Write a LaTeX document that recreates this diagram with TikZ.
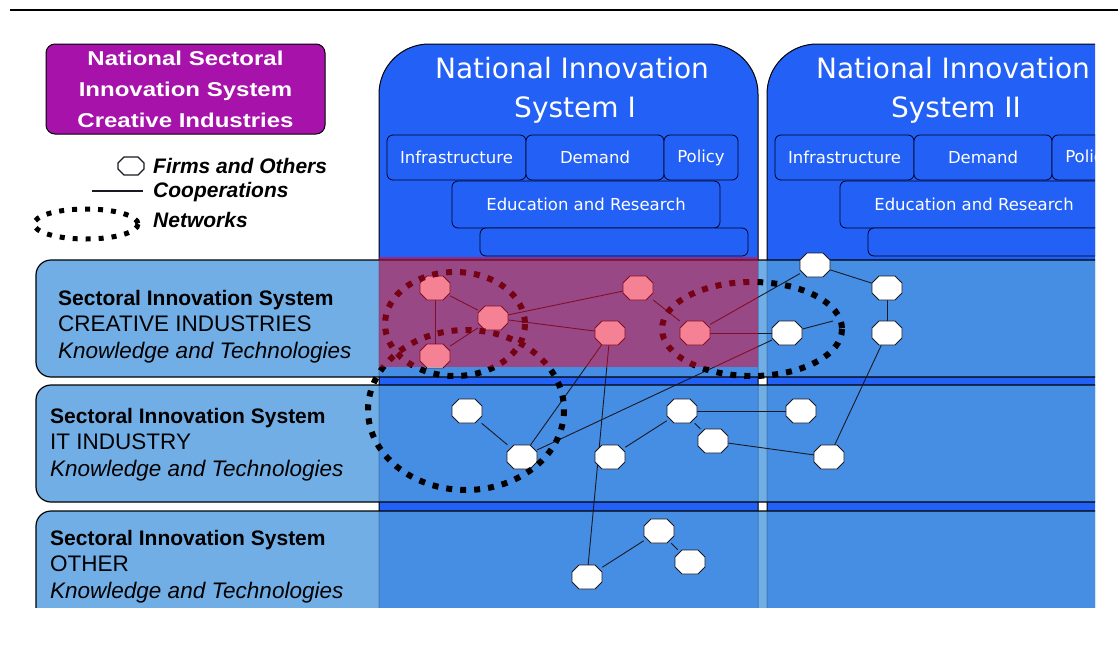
\documentclass[tikz,border=0pt]{standalone}
\usepackage{fontspec}
\setmainfont{Liberation Sans}
\newfontfamily\nisfont{DejaVu Sans}
\newfontfamily\boxfont[FakeStretch=1.2]{Liberation Sans}
\usepackage{tikz}
\pgfdeclarelayer{background}
\pgfdeclarelayer{foreground}
\pgfsetlayers{background,main,foreground}

\definecolor{nisblue}{RGB}{35,96,245}
\definecolor{sisblue}{RGB}{79,154,224}
\definecolor{nsismagenta}{RGB}{166,18,170}
\definecolor{cellred}{RGB}{236,4,42}
\definecolor{linkgray}{RGB}{25,25,35}

\tikzset{
  nis/.style={fill=nisblue, draw=black, line width=1pt, rounded corners=50pt},
  subbox/.style={draw=black!85!blue, line width=0.8pt, fill=nisblue, rounded corners=6pt, text=white, font=\nisfont\fontsize{16.5}{18}\selectfont, inner sep=0pt},
  sisband/.style={fill=sisblue, fill opacity=0.8, draw=black, line width=1.2pt, rounded corners=15pt},
  sisline/.style={anchor=base west, inner sep=0pt, text=black},
  firm/.style={rectangle, inner sep=0pt, minimum width=30pt, minimum height=24pt},
  firmbody/.style={draw=linkgray, line width=0.9pt, fill=white},
  coop/.style={draw=linkgray, line width=0.9pt},
  network/.style={draw=black, line width=6pt, dash pattern=on 6pt off 8pt},
  legtext/.style={anchor=base west, inner sep=0pt, font=\bfseries\itshape\fontsize{21}{24}\selectfont},
}

\begin{document}
\begin{tikzpicture}[x=1pt, y=-1pt]
\useasboundingbox (0,0) rectangle (1118,646);

\begin{scope}
\clip (0,0) rectangle (1095,607);
% national innovation systems
\foreach \dx/\tx/\nm [count=\c] in {0/572/I, 388/953/II} {
  \begin{scope}[xshift=\dx pt]
  \draw[nis] (379,660) -- (379,44) -- (758,44) -- (758,660);
  \node[subbox, minimum width=139pt, minimum height=45pt] (inf\c) at (456.5,157.5) {Infrastructure};
  \node[subbox, minimum width=138pt, minimum height=45pt] (dem\c) at (595,157.5) {Demand};
  \node[subbox, minimum width=74pt, minimum height=45pt] (pol\c) at (701,157.5) {Policy};
  \node[subbox, minimum width=268pt, minimum height=47pt] (edu\c) at (586,204.5) {Education and Research};
  \node[subbox, minimum width=268pt, minimum height=28pt] (emp\c) at (614,242) {};
  \end{scope}
  \node[anchor=base, inner sep=0pt, text=white, font=\nisfont\fontsize{28}{34}\selectfont] (nisa\c) at (\tx,78) {National Innovation};
  \node[anchor=base, inner sep=0pt, text=white, font=\nisfont\fontsize{28}{34}\selectfont] (nisb\c) at (\tx+3,117) {System \nm};
}

% sectoral innovation systems
\foreach \yt/\yb in {260/377, 385/502, 511/660}
  \draw[sisband] (1150,\yt) -- (36,\yt) -- (36,\yb) -- (1150,\yb);
\foreach \xx/\yy/\sector [count=\b] in {58/305/CREATIVE INDUSTRIES, 50/423/IT INDUSTRY, 50/545/OTHER} {
  \node[sisline, font=\bfseries\fontsize{21}{24}\selectfont] (sisname\b) at (\xx,\yy) {Sectoral Innovation System};
  \node[sisline, font=\fontsize{22.5}{26}\selectfont] (sissector\b) at (\xx,\yy+26.5) {\sector};
  \node[sisline, font=\itshape\fontsize{22.5}{26}\selectfont] (sisknow\b) at (\xx,\yy+53) {Knowledge and Technologies};
}

% firms and others
\node[firm] (c1) at (435,288) {};
\node[firm] (c2) at (435,356) {};
\node[firm] (c3) at (493,318) {};
\node[firm] (c4) at (638,288) {};
\node[firm] (c5) at (610,333) {};
\node[firm] (c6) at (695,333) {};
\node[firm] (c7) at (815,265) {};
\node[firm] (c8) at (787,333) {};
\node[firm] (c9) at (887,288) {};
\node[firm] (c10) at (887,333) {};
\node[firm] (t1) at (467,411) {};
\node[firm] (t2) at (522,457) {};
\node[firm] (t3) at (610,457) {};
\node[firm] (t4) at (682,411) {};
\node[firm] (t5) at (713,441) {};
\node[firm] (t6) at (801,411) {};
\node[firm] (t7) at (829,457) {};
\node[firm] (o1) at (659,531) {};
\node[firm] (o2) at (690,562) {};
\node[firm] (o3) at (587,577) {};
\coordinate (netend) at (833,321);

% cooperations
\draw[coop] (c1) -- (c2);
\draw[coop] (c1) -- (c3);
\draw[coop] (c2) -- (c3);
\draw[coop] (c3) -- (c4);
\draw[coop] (c3) -- (c5);
\draw[coop] (c4) -- (c6);
\draw[coop] (c6) -- (c8);
\draw[coop] (c6) -- (c7);
\draw[coop] (c5) -- (t2);
\draw[coop] (c5) -- (o3);
\draw[coop] (t2) -- (c8);
\draw[coop] (c7) -- (c9);
\draw[coop] (c9) -- (c10);
\draw[coop] (c10) -- (t7);
\draw[coop] (c8) -- (netend);
\draw[coop] (t1) -- (t2);
\draw[coop] (t3) -- (t4);
\draw[coop] (t4) -- (t6);
\draw[coop] (t4) -- (t5);
\draw[coop] (t5) -- (t7);
\draw[coop] (o1) -- (o2);
\draw[coop] (o1) -- (o3);

% octagons on top of the line ends
\foreach \f in {c1,c2,c3,c4,c5,c6,c7,c8,c9,c10,t1,t2,t3,t4,t5,t6,t7,o1,o2,o3}
  \draw[firmbody, shift={(\f.center)}] (-8,12) -- (8,12) -- (15,5) -- (15,-5) -- (8,-12) -- (-8,-12) -- (-15,-5) -- (-15,5) -- cycle;

% networks
\draw[network] (455,324) ellipse [x radius=70, y radius=52];
\draw[network] (466,410) ellipse [x radius=98, y radius=80];
\draw[network] (752,329) ellipse [x radius=90, y radius=47];

% creative industries in system I
\fill[cellred, fill opacity=0.5] (379,257) rectangle (758,367);
\end{scope}

\begin{pgfonlayer}{foreground}
\node[draw=black, line width=1pt, fill=nsismagenta, rounded corners=9pt, minimum width=279pt, minimum height=90pt, inner sep=0pt, text=white, align=center, font=\boxfont\bfseries\fontsize{20}{31}\selectfont] (nsis) at (185.5,89) {National Sectoral\\Innovation System\\Creative Industries};
\node[firm, minimum width=26pt, minimum height=18pt] (legfirm) at (131,166) {};
\draw[firmbody, line width=1.1pt, shift={(legfirm.center)}] (-7,9) -- (7,9) -- (13,3) -- (13,-3) -- (7,-9) -- (-7,-9) -- (-13,-3) -- (-13,3) -- cycle;
\node[legtext] (legfirmtxt) at (153,173) {Firms and Others};
\coordinate (legcoopa) at (92,191);
\coordinate (legcoopb) at (143,191);
\draw[coop, line width=1.4pt] (legcoopa) -- (legcoopb);
\node[legtext] (legcooptxt) at (153,197) {Cooperations};
\draw[network, line width=5pt, dash pattern=on 5pt off 8pt] (86,224) ellipse [x radius=52, y radius=15];
\node[legtext] (legnettxt) at (153,227) {Networks};
\coordinate (rulel) at (10,10);
\coordinate (ruler) at (1118,10);
\draw[line width=2pt] (rulel) -- (ruler);
\end{pgfonlayer}
\end{tikzpicture}
\end{document}
